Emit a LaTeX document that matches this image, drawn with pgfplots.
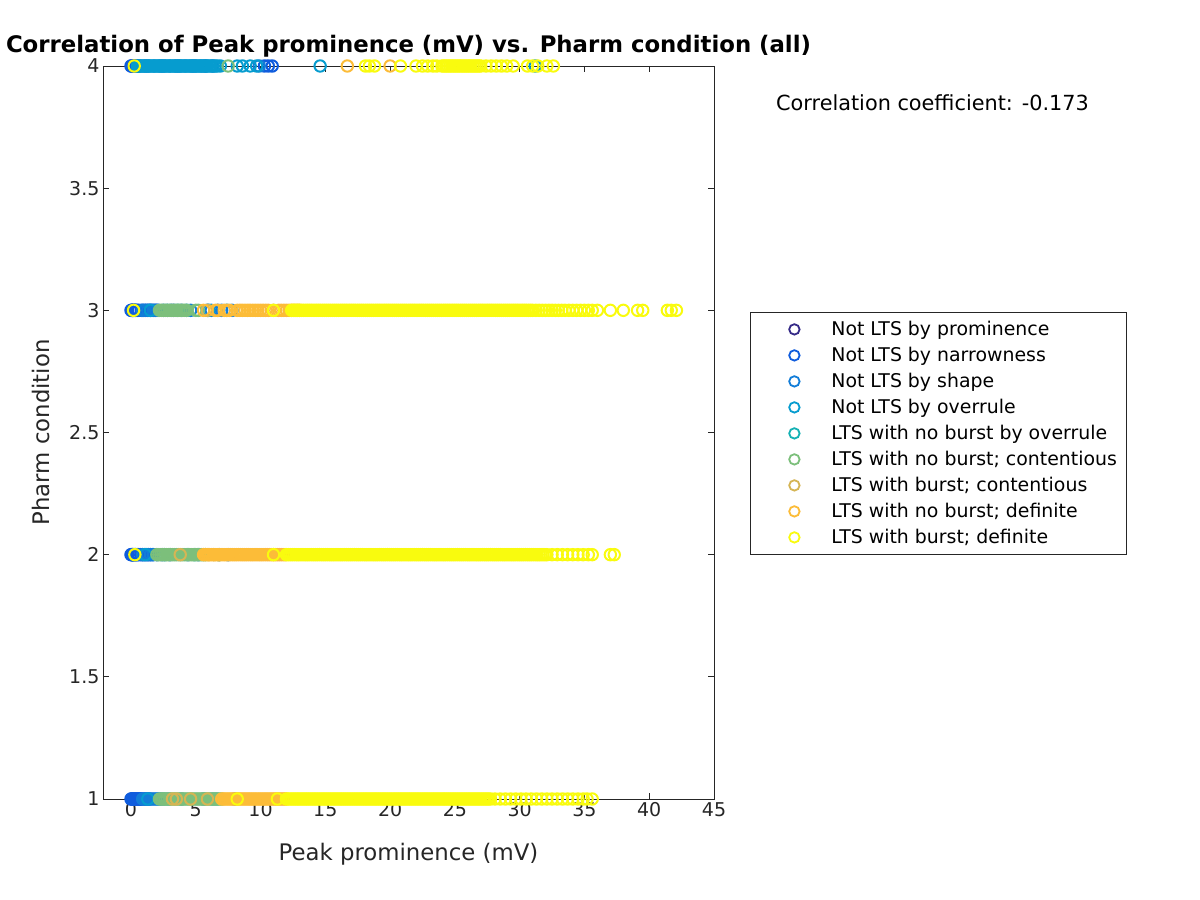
\documentclass[border=0pt]{standalone}
\usepackage{fontspec}
\setmainfont{DejaVu Sans}
\usepackage{pgfplots}
\pgfplotsset{compat=1.18}
\definecolor{mgray}{RGB}{38,38,38}
\definecolor{c1}{RGB}{53,42,135}
\definecolor{c2}{RGB}{15,92,221}
\definecolor{c3}{RGB}{18,125,216}
\definecolor{c4}{RGB}{6,156,207}
\definecolor{c5}{RGB}{21,177,180}
\definecolor{c6}{RGB}{124,191,123}
\definecolor{c7}{RGB}{213,181,84}
\definecolor{c8}{RGB}{252,188,56}
\definecolor{c9}{RGB}{249,251,14}
\begin{document}
\begin{tikzpicture}
\path[use as bounding box] (0,0) rectangle (1200pt,900pt);
\begin{axis}[
  at={(103pt,101pt)}, anchor=south west,
  width=611pt, height=733pt, scale only axis,
  xmin=-2.16, xmax=45, ymin=1, ymax=4,
  xtick={0,5,...,45}, ytick={1,1.5,...,4},
  tick align=inside, tick pos=both, major tick length=6pt,
  axis line style={mgray, line width=0.8pt},
  tick style={mgray, line width=0.8pt},
  ticklabel style={mgray, font=\fontsize{19}{22}\selectfont},
  /pgf/number format/assume math mode=true,
  clip=false,
  title={Correlation of Peak prominence (mV) vs. Pharm condition (all)},
  title style={at={(0.5,1)}, anchor=base, yshift=7pt, font=\bfseries\fontsize{22.8}{26}\selectfont, text=black, inner sep=0pt},
  xlabel={Peak prominence (mV)},
  xlabel style={at={(0.5,0)}, anchor=base, yshift=-61pt, font=\fontsize{22.8}{26}\selectfont, text=mgray, inner sep=0pt},
  ylabel={Pharm condition},
  ylabel style={at={(0,0.5)}, anchor=base, yshift=53pt, font=\fontsize{22.8}{26}\selectfont, text=mgray, inner sep=0pt},
  every axis plot/.append style={only marks, mark=o, mark size=5.7pt, line width=2pt, mark options={solid, line width=2pt}},
  legend image code/.code={\path[draw=none,fill=none] (0pt,-13pt) rectangle (72pt,13pt); \draw[#1,mark size=5.2pt,mark options={line width=1.8pt}] plot coordinates {(35pt,0pt)};},
  legend cell align=left,
  legend style={at={(1.0589,0.6644)}, anchor=north west, draw=mgray, line width=0.8pt,
    inner xsep=9pt, inner ysep=4pt, column sep=0pt, row sep=0pt,
    nodes={inner xsep=0pt, inner ysep=0pt, text=black},
    font=\fontsize{18.9}{22}\selectfont},
]
% Not LTS by prominence
\addplot[color=c1] coordinates {(0.1,1) (0.1,2) (0.1,3) (0.1,4)};
\addlegendentry{Not LTS by prominence}
% Not LTS by narrowness
\addplot[color=c2] coordinates {
(0.0,4) (0.05,4) (0.1,4) (0.15,4) (0.2,4) (0.25,4) (0.3,4) (0.35,4) (0.4,4) (0.5,4) (0.6,4)
(1.2,4) (2.4,4) (3.6,4) (4.8,4) (5.7,4) (6.3,4) (10.3,4) (10.6,4) (10.9,4)
(0.0,3) (0.05,3) (0.1,3) (0.15,3) (0.2,3) (0.25,3) (0.3,3) (0.35,3) (0.4,3) (0.5,3) (0.6,3)
(0.8,3) (0.95,3) (1.1,3) (1.25,3) (1.4,3) (1.55,3) (1.7,3) (1.85,3) (2.0,3) (3.3,3) (5.9,3) (6.7,3)
(0.0,2) (0.05,2) (0.1,2) (0.15,2) (0.2,2) (0.25,2) (0.3,2) (0.35,2) (0.4,2) (0.5,2) (0.6,2)
(0.75,2) (0.9,2) (1.05,2) (1.2,2) (1.35,2) (1.5,2) (1.7,2)
(0.0,1) (0.05,1) (0.1,1) (0.15,1) (0.2,1) (0.25,1) (0.3,1) (0.35,1) (0.4,1) (0.45,1) (0.5,1)
(0.55,1) (0.6,1) (0.65,1) (0.7,1) (0.75,1) (0.8,1) (0.95,1) (1.1,1) (1.25,1) (1.4,1)};
\addlegendentry{Not LTS by narrowness}
% Not LTS by shape
\addplot[color=c3] coordinates {
(0.7,4) (1.0,4) (1.4,4) (1.8,4) (2.2,4) (2.6,4) (3.0,4) (3.4,4) (3.8,4) (4.2,4) (4.6,4) (5.0,4) (5.4,4) (5.8,4) (9.9,4)
(0.9,3) (1.1,3) (1.3,3) (1.5,3) (1.7,3) (1.9,3) (2.1,3) (2.5,3) (3.1,3) (3.9,3) (4.6,3) (6.2,3) (7.0,3) (7.8,3)
(0.9,2) (1.3,2) (1.5,2) (1.7,2) (2.0,2) (2.4,2) (3.0,2) (4.4,2) (5.2,2) (7.5,2)
(0.9,1) (1.05,1) (1.2,1) (1.35,1) (1.5,1) (1.65,1) (1.8,1) (1.95,1) (2.1,1) (2.4,1) (2.9,1) (3.9,1) (5.6,1) (8.0,1)};
\addlegendentry{Not LTS by shape}
% Not LTS by overrule
\addplot[color=c4] coordinates {
(0.5,4) (0.65,4) (0.8,4) (0.95,4) (1.1,4) (1.25,4) (1.4,4) (1.55,4) (1.7,4) (1.85,4) (2.0,4)
(2.15,4) (2.3,4) (2.45,4) (2.6,4) (2.75,4) (2.9,4) (3.05,4) (3.2,4) (3.35,4) (3.5,4) (3.65,4)
(3.8,4) (3.95,4) (4.1,4) (4.25,4) (4.4,4) (4.55,4) (4.7,4) (4.85,4) (5.0,4) (5.15,4) (5.3,4)
(5.45,4) (5.6,4) (5.75,4) (5.9,4) (6.05,4) (6.2,4) (6.35,4) (6.5,4) (6.65,4) (6.9,4)
(8.2,4) (8.6,4) (9.2,4) (9.7,4) (14.6,4) (31.2,4)
(1.5,3) (2.8,3) (4.3,3) (6.0,3) (7.4,3)
(1.1,2) (2.6,2) (6.8,2)
(1.3,1) (2.2,1) (6.3,1)};
\addlegendentry{Not LTS by overrule}
% LTS with no burst by overrule
\addplot[color=c5] coordinates {(2.6,1) (6.6,1) (4.9,2) (3.6,3)};
\addlegendentry{LTS with no burst by overrule}
% LTS with no burst; contentious
\addplot[color=c6] coordinates {
(7.5,4)
(2.2,3) (2.35,3) (2.5,3) (2.65,3) (2.8,3) (2.95,3) (3.1,3) (3.25,3) (3.4,3) (3.55,3) (3.7,3)
(3.85,3) (4.0,3) (4.15,3) (4.3,3) (5.0,3) (5.2,3)
(2.0,2) (2.15,2) (2.3,2) (2.45,2) (2.6,2) (2.75,2) (2.9,2) (3.05,2) (3.2,2) (3.35,2) (3.5,2)
(3.65,2) (3.8,2) (3.95,2) (4.1,2) (4.25,2) (4.4,2) (4.55,2) (4.7,2) (4.85,2) (5.0,2) (5.15,2)
(5.3,2) (5.45,2) (5.6,2) (5.75,2)
(2.2,1) (2.35,1) (2.5,1) (2.65,1) (2.8,1) (2.95,1) (3.1,1) (3.25,1) (3.4,1) (3.55,1) (3.7,1)
(3.85,1) (4.0,1) (4.15,1) (4.3,1) (4.45,1) (4.6,1) (4.75,1) (4.9,1) (5.05,1) (5.2,1) (5.35,1)
(5.5,1) (5.65,1) (5.8,1) (5.95,1) (6.1,1) (6.25,1) (6.4,1) (6.55,1) (6.7,1) (6.85,1) (7.0,1)};
\addlegendentry{LTS with no burst; contentious}
% LTS with burst; contentious
\addplot[color=c7] coordinates {
(5.9,3) (11.0,3)
(3.8,2) (6.0,2) (6.4,2) (6.8,2)
(3.2,1) (3.5,1) (4.6,1) (5.9,1)};
\addlegendentry{LTS with burst; contentious}
% LTS with no burst; definite
\addplot[color=c8] coordinates {
(16.7,4) (20.0,4)
(5.6,3) (6.5,3) (6.7,3) (7.2,3) (7.4,3) (7.6,3) (8.2,3) (8.4,3) (8.6,3) (8.8,3) (9.0,3) (9.2,3)
(9.4,3) (9.6,3) (9.8,3) (10.0,3) (10.2,3) (10.4,3) (10.6,3) (11.4,3) (11.6,3) (11.8,3) (12.0,3)
(12.2,3) (12.4,3) (12.6,3) (12.8,3) (13.0,3)
(5.6,2) (5.75,2) (5.9,2) (6.05,2) (6.2,2) (6.35,2) (6.5,2) (6.65,2) (6.8,2) (6.95,2) (7.1,2)
(7.25,2) (7.4,2) (7.55,2) (7.7,2) (7.85,2) (8.0,2) (8.15,2) (8.3,2) (8.45,2) (8.6,2) (8.75,2)
(8.9,2) (9.05,2) (9.2,2) (9.35,2) (9.5,2) (9.65,2) (9.8,2) (9.95,2) (10.1,2) (10.25,2) (10.4,2)
(10.55,2) (10.7,2) (10.85,2) (11.0,2) (11.15,2) (11.3,2) (11.45,2) (11.6,2) (11.75,2) (11.9,2)
(7.0,1) (7.15,1) (7.3,1) (7.45,1) (7.6,1) (7.75,1) (7.9,1) (8.05,1) (8.2,1) (8.35,1) (8.5,1)
(8.65,1) (8.8,1) (8.95,1) (9.1,1) (9.25,1) (9.4,1) (9.55,1) (9.7,1) (9.85,1) (10.0,1) (10.15,1)
(10.3,1) (10.45,1) (10.6,1) (10.75,1) (10.9,1) (11.05,1) (11.2,1) (11.35,1) (11.5,1) (11.65,1)
(11.8,1) (11.95,1)};
\addlegendentry{LTS with no burst; definite}
% LTS with burst; definite
\addplot[color=c9] coordinates {
(0.25,4) (18.1,4) (18.4,4) (18.8,4) (20.8,4) (22.0,4) (22.5,4) (22.9,4) (23.3,4) (23.6,4)
(24.0,4) (24.15,4) (24.3,4) (24.45,4) (24.6,4) (24.75,4) (24.9,4) (25.05,4) (25.2,4) (25.35,4)
(25.5,4) (25.65,4) (25.8,4) (25.95,4) (26.1,4) (26.25,4) (26.4,4) (26.55,4) (26.7,4) (26.85,4)
(27.0,4) (27.4,4) (27.8,4) (28.2,4) (28.6,4) (29.0,4) (29.5,4) (30.6,4) (31.0,4) (31.4,4)
(32.1,4) (32.6,4)
(0.2,3) (11.0,3)
(12.4,3) (12.55,3) (12.7,3) (12.85,3) (13.0,3) (13.15,3) (13.3,3) (13.45,3) (13.6,3) (13.75,3)
(13.9,3) (14.05,3) (14.2,3) (14.35,3) (14.5,3) (14.65,3) (14.8,3) (14.95,3) (15.1,3) (15.25,3)
(15.4,3) (15.55,3) (15.7,3) (15.85,3) (16.0,3) (16.15,3) (16.3,3) (16.45,3) (16.6,3) (16.75,3)
(16.9,3) (17.05,3) (17.2,3) (17.35,3) (17.5,3) (17.65,3) (17.8,3) (17.95,3) (18.1,3) (18.25,3)
(18.4,3) (18.55,3) (18.7,3) (18.85,3) (19.0,3) (19.15,3) (19.3,3) (19.45,3) (19.6,3) (19.75,3)
(19.9,3) (20.05,3) (20.2,3) (20.35,3) (20.5,3) (20.65,3) (20.8,3) (20.95,3) (21.1,3) (21.25,3)
(21.4,3) (21.55,3) (21.7,3) (21.85,3) (22.0,3) (22.15,3) (22.3,3) (22.45,3) (22.6,3) (22.75,3)
(22.9,3) (23.05,3) (23.2,3) (23.35,3) (23.5,3) (23.65,3) (23.8,3) (23.95,3) (24.1,3) (24.25,3)
(24.4,3) (24.55,3) (24.7,3) (24.85,3) (25.0,3) (25.15,3) (25.3,3) (25.45,3) (25.6,3) (25.75,3)
(25.9,3) (26.05,3) (26.2,3) (26.35,3) (26.5,3) (26.65,3) (26.8,3) (26.95,3) (27.1,3) (27.25,3)
(27.4,3) (27.55,3) (27.7,3) (27.85,3) (28.0,3) (28.15,3) (28.3,3) (28.45,3) (28.6,3) (28.75,3)
(28.9,3) (29.05,3) (29.2,3) (29.35,3) (29.5,3) (29.65,3) (29.8,3) (29.95,3) (30.1,3) (30.25,3)
(30.4,3) (30.55,3) (30.7,3) (30.85,3) (31.0,3)
(31.25,3) (31.5,3) (31.75,3) (32.0,3) (32.25,3) (32.5,3) (32.75,3) (33.0,3) (33.25,3) (33.5,3)
(33.8,3) (34.1,3) (34.4,3) (34.7,3) (35.0,3) (35.3,3) (35.6,3) (36.0,3)
(37.0,3) (38.0,3) (39.1,3) (39.5,3) (41.4,3) (41.7,3) (42.1,3)
(0.3,2) (11.0,2)
(12.0,2) (12.15,2) (12.3,2) (12.45,2) (12.6,2) (12.75,2) (12.9,2) (13.05,2) (13.2,2) (13.35,2)
(13.5,2) (13.65,2) (13.8,2) (13.95,2) (14.1,2) (14.25,2) (14.4,2) (14.55,2) (14.7,2) (14.85,2)
(15.0,2) (15.15,2) (15.3,2) (15.45,2) (15.6,2) (15.75,2) (15.9,2) (16.05,2) (16.2,2) (16.35,2)
(16.5,2) (16.65,2) (16.8,2) (16.95,2) (17.1,2) (17.25,2) (17.4,2) (17.55,2) (17.7,2) (17.85,2)
(18.0,2) (18.15,2) (18.3,2) (18.45,2) (18.6,2) (18.75,2) (18.9,2) (19.05,2) (19.2,2) (19.35,2)
(19.5,2) (19.65,2) (19.8,2) (19.95,2) (20.1,2) (20.25,2) (20.4,2) (20.55,2) (20.7,2) (20.85,2)
(21.0,2) (21.15,2) (21.3,2) (21.45,2) (21.6,2) (21.75,2) (21.9,2) (22.05,2) (22.2,2) (22.35,2)
(22.5,2) (22.65,2) (22.8,2) (22.95,2) (23.1,2) (23.25,2) (23.4,2) (23.55,2) (23.7,2) (23.85,2)
(24.0,2) (24.15,2) (24.3,2) (24.45,2) (24.6,2) (24.75,2) (24.9,2) (25.05,2) (25.2,2) (25.35,2)
(25.5,2) (25.65,2) (25.8,2) (25.95,2) (26.1,2) (26.25,2) (26.4,2) (26.55,2) (26.7,2) (26.85,2)
(27.0,2) (27.15,2) (27.3,2) (27.45,2) (27.6,2) (27.75,2) (27.9,2) (28.05,2) (28.2,2) (28.35,2)
(28.5,2) (28.65,2) (28.8,2) (28.95,2) (29.1,2) (29.25,2) (29.4,2) (29.55,2) (29.7,2) (29.85,2)
(30.0,2) (30.15,2) (30.3,2) (30.45,2) (30.6,2) (30.75,2) (30.9,2) (31.05,2) (31.2,2) (31.35,2)
(31.5,2) (31.65,2) (31.8,2) (31.95,2) (32.1,2)
(32.5,2) (32.9,2) (33.3,2) (33.7,2) (34.1,2) (34.5,2) (34.9,2) (35.3,2) (35.6,2) (37.0,2) (37.3,2)
(8.2,1) (11.3,1)
(12.0,1) (12.15,1) (12.3,1) (12.45,1) (12.6,1) (12.75,1) (12.9,1) (13.05,1) (13.2,1) (13.35,1)
(13.5,1) (13.65,1) (13.8,1) (13.95,1) (14.1,1) (14.25,1) (14.4,1) (14.55,1) (14.7,1) (14.85,1)
(15.0,1) (15.15,1) (15.3,1) (15.45,1) (15.6,1) (15.75,1) (15.9,1) (16.05,1) (16.2,1) (16.35,1)
(16.5,1) (16.65,1) (16.8,1) (16.95,1) (17.1,1) (17.25,1) (17.4,1) (17.55,1) (17.7,1) (17.85,1)
(18.0,1) (18.15,1) (18.3,1) (18.45,1) (18.6,1) (18.75,1) (18.9,1) (19.05,1) (19.2,1) (19.35,1)
(19.5,1) (19.65,1) (19.8,1) (19.95,1) (20.1,1) (20.25,1) (20.4,1) (20.55,1) (20.7,1) (20.85,1)
(21.0,1) (21.15,1) (21.3,1) (21.45,1) (21.6,1) (21.75,1) (21.9,1) (22.05,1) (22.2,1) (22.35,1)
(22.5,1) (22.65,1) (22.8,1) (22.95,1) (23.1,1) (23.25,1) (23.4,1) (23.55,1) (23.7,1) (23.85,1)
(24.0,1) (24.15,1) (24.3,1) (24.45,1) (24.6,1) (24.75,1) (24.9,1) (25.05,1) (25.2,1) (25.35,1)
(25.5,1) (25.65,1) (25.8,1) (25.95,1) (26.1,1) (26.25,1) (26.4,1) (26.55,1) (26.7,1) (26.85,1)
(27.0,1) (27.15,1) (27.3,1) (27.45,1) (27.6,1) (27.75,1)
(28.1,1) (28.5,1) (28.9,1) (29.3,1) (29.7,1) (30.1,1) (30.5,1) (30.9,1) (31.3,1) (31.7,1)
(32.1,1) (32.5,1) (32.9,1) (33.3,1) (33.7,1) (34.1,1) (34.5,1) (34.9,1) (35.2,1) (35.6,1)};
\addlegendentry{LTS with burst; definite}
\node[anchor=west, inner sep=0pt, text=black, font=\fontsize{20.8}{24}\selectfont] at (rel axis cs:1.1015,0.9495) {Correlation coefficient: -0.173};
\end{axis}
\end{tikzpicture}
\end{document}
